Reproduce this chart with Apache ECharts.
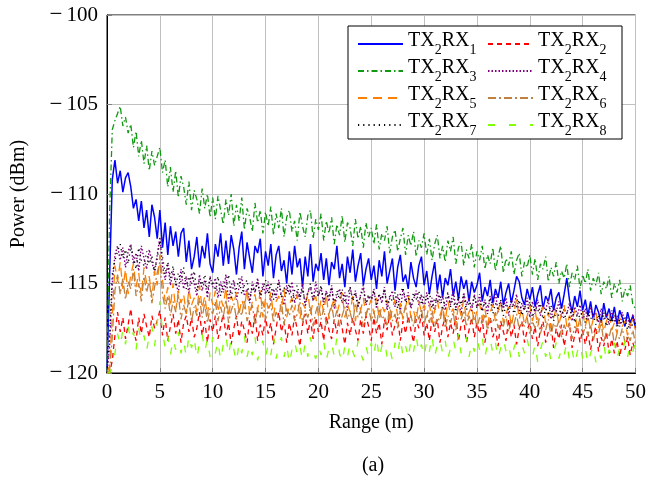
<!DOCTYPE html>
<html>
<head>
<meta charset="utf-8">
<script src="https://cdn.jsdelivr.net/npm/echarts@6/dist/echarts.min.js"></script>
<style>html,body{margin:0;padding:0;background:#fff}#c{width:649px;height:480px}</style>
</head>
<body>
<div id="c"></div>
<script>
// ---- data (range step 0.25 m, 0 .. 50 m) ----
const RANGE_STEP = 0.25;
const seriesNames = ['TX2RX1','TX2RX2','TX2RX3','TX2RX4','TX2RX5','TX2RX6','TX2RX7','TX2RX8'];
const yTicks = [-120, -115, -110, -105, -100];
const xTicks = [0, 5, 10, 15, 20, 25, 30, 35, 40, 45, 50];

const tx2rx1 = [-120,-114.5,-109.2,-108.1,-109.4,-108.7,-109.9,-109.1,-108.8,-109.6,-110.8,-110.3,-111.5,-110.4,-111.9,-110.9,-112.4,-110.6,-111.3,-112.5,-110.9,-113.0,-111.6,-113.4,-111.8,-112.9,-112.1,-113.5,-112.2,-111.9,-113.8,-112.6,-114.2,-113.5,-112.4,-114.1,-112.9,-113.6,-112.2,-113.9,-114.4,
-112.8,-113.5,-112.2,-114.0,-112.6,-113.9,-112.3,-113.1,-114.5,-113.0,-112.1,-114.2,-112.7,-113.6,-114.4,-112.9,-113.3,-112.5,-114.6,-113.2,
-114.0,-112.8,-114.7,-113.4,-112.9,-114.3,-113.7,-115.0,-113.2,-114.5,-112.9,-114.1,-113.6,-115.2,-113.5,-114.6,-112.8,-114.9,-113.9,-114.3,
-113.3,-114.8,-113.6,-115.1,-113.8,-114.2,-112.9,-114.7,-113.9,-115.2,-113.5,-114.4,-113.1,-114.9,-114.0,-113.3,-115.1,-114.2,-113.6,-114.8,
-114.0,-115.3,-113.7,-114.6,-113.2,-115.0,-114.3,-113.6,-115.4,-114.1,-113.4,-114.9,-114.5,-115.3,-113.8,-114.7,-115.2,-114.0,-113.5,-115.1,
-114.3,-115.6,-114.6,-113.8,-115.4,-114.5,-115.8,-114.7,-115.1,-114.2,-115.7,-114.9,-115.9,-114.6,-115.3,-114.8,-116.0,-114.9,-115.5,-115.1,
-114.4,-116.0,-115.2,-115.7,-114.8,-116.1,-115.3,-115.8,-114.9,-116.2,-115.5,-115.0,-116.1,-115.4,-114.6,-114.9,-115.8,-116.2,-115.3,-115.9,
-115.2,-116.3,-115.6,-115.1,-116.4,-115.7,-116.0,-115.3,-116.5,-115.8,-115.5,-116.4,-115.6,-114.7,-115.9,-116.6,-115.7,-116.3,-115.4,-116.5,
-115.9,-116.8,-116.0,-117.0,-116.2,-116.6,-117.2,-116.1,-116.9,-116.4,-117.1,-116.3,-117.3,-116.5,-116.9,-117.4,-116.6,-117.2,-116.8,-117.5];

const tx2rx2 = [-120,-120,-119.3,-117.9,-116.6,-117.7,-116.9,-118.1,-117.3,-116.4,-117.6,-118.2,-116.9,-117.8,-116.7,-117.4,-118.0,-116.8,-117.5,-117.1,-116.5,-117.9,-116.9,-118.2,-117.4,-116.7,-117.8,-117.0,-118.3,-117.2,-116.8,-117.7,-116.9,-118.0,-117.5,-116.6,-117.9,-117.1,-118.3,-117.0,-117.7,
-116.8,-118.1,-117.4,-116.7,-117.9,-117.2,-118.4,-117.5,-116.8,-118.0,-117.1,-117.6,-118.3,-117.0,-117.8,-116.7,-118.2,-117.3,-117.9,-116.9,
-117.8,-117.2,-118.4,-117.5,-116.6,-117.7,-117.1,-118.3,-117.2,-117.9,-116.8,-117.6,-118.5,-117.3,-116.7,-117.8,-117.0,-118.1,-116.9,-117.7,
-117.1,-118.2,-116.8,-117.6,-118.1,-117.0,-117.8,-116.7,-117.5,-118.4,-117.2,-117.9,-116.9,-117.6,-118.2,-117.0,-117.8,-116.8,-117.4,-118.2,
-116.9,-117.8,-117.2,-118.4,-117.0,-117.6,-116.7,-117.9,-117.3,-116.9,-118.2,-117.1,-117.8,-116.8,-117.6,-118.3,-117.0,-117.5,-116.7,-117.9,
-117.2,-118.2,-116.9,-117.7,-117.0,-118.3,-117.4,-116.9,-118.0,-117.2,-117.8,-116.8,-118.2,-117.3,-117.0,-118.3,-117.6,-116.9,-118.0,-117.2,
-117.8,-117.0,-118.3,-117.4,-116.9,-118.0,-117.5,-118.5,-117.1,-117.7,-118.2,-117.0,-118.0,-117.3,-118.4,-117.5,-117.1,-118.3,-117.6,-117.2,
-118.1,-117.4,-118.5,-117.6,-117.1,-118.3,-117.7,-117.2,-118.6,-117.5,-118.1,-117.3,-118.5,-117.7,-117.2,-118.6,-117.9,-117.4,-118.3,-117.6,
-118.4,-117.7,-118.7,-117.9,-117.4,-118.8,-118.0,-118.5,-117.7,-118.9,-118.1,-118.9,-118.2,-119.1,-118.3,-118.7,-118.0,-119.0,-118.3,-118.8];

const tx2rx3 = [-120,-111,-106.4,-105.9,-105.5,-105.1,-106.2,-105.7,-106.6,-106.1,-107.4,-106.5,-107.9,-107.0,-108.3,-107.3,-108.7,-107.6,-108.4,-107.9,-107.4,-108.8,-108.1,-109.6,-108.5,-109.9,-108.7,-110.2,-109.0,-109.6,-110.6,-109.3,-110.9,-109.8,-110.3,-111.1,-109.7,-110.8,-110.0,-111.3,-110.2,
-111.4,-110.1,-110.9,-111.7,-110.3,-111.2,-110.0,-111.8,-110.6,-111.5,-110.2,-112.0,-110.8,-111.3,-112.1,-110.5,-111.6,-110.9,-112.2,-111.0,
-111.8,-110.7,-112.3,-111.1,-111.9,-110.8,-112.4,-111.3,-110.9,-112.1,-111.5,-112.6,-111.0,-111.8,-112.4,-111.2,-110.9,-112.5,-111.4,-112.0,
-111.1,-112.6,-111.5,-112.2,-111.3,-112.8,-111.7,-112.3,-111.2,-112.7,-111.6,-111.9,-112.9,-111.4,-112.5,-111.8,-113.0,-111.6,-112.4,-111.9,
-112.8,-111.7,-113.1,-112.2,-112.6,-111.8,-113.3,-112.4,-112.0,-113.2,-112.5,-111.9,-113.4,-112.3,-112.9,-112.1,-113.5,-112.6,-113.0,-112.2,
-113.4,-112.5,-113.7,-112.8,-112.3,-113.6,-112.9,-113.8,-112.6,-113.2,-112.4,-113.9,-113.0,-112.7,-114.0,-113.1,-113.6,-112.8,-114.1,-113.2,
-113.7,-112.9,-114.2,-113.4,-113.9,-113.0,-114.3,-113.5,-112.9,-114.4,-113.6,-114.0,-113.2,-114.5,-113.7,-113.3,-114.6,-113.8,-114.1,-113.4,
-114.5,-113.6,-114.8,-113.9,-114.2,-113.5,-114.9,-114.1,-114.6,-113.8,-115.0,-114.3,-114.7,-113.9,-115.2,-114.4,-114.8,-114.0,-115.3,-114.5,
-115.0,-114.2,-115.4,-114.7,-115.1,-114.4,-115.6,-114.9,-115.3,-114.6,-115.8,-115.0,-115.5,-114.8,-116.0,-115.3,-115.7,-115.1,-116.2,-116.4];

const tx2rx4 = [-120,-118.5,-115.0,-113.4,-112.9,-113.7,-113.0,-114.1,-113.2,-112.8,-113.9,-113.3,-114.3,-112.9,-113.6,-114.2,-113.1,-113.8,-114.4,-113.4,-112.4,-114.0,-114.8,-113.9,-115.1,-114.3,-114.9,-115.5,-114.2,-115.3,-114.6,-115.6,-114.4,-115.0,-115.7,-114.5,-115.4,-114.8,-115.8,-114.6,-115.2,
-114.7,-115.8,-114.9,-115.5,-114.5,-116.0,-115.1,-114.8,-115.9,-115.2,-114.6,-115.7,-115.3,-116.1,-114.9,-115.5,-114.7,-115.9,-115.0,-115.6,
-114.9,-116.0,-115.3,-115.8,-114.8,-115.7,-116.2,-115.1,-115.6,-114.9,-116.1,-115.4,-115.9,-115.0,-116.3,-115.5,-115.2,-116.0,-114.9,-115.7,
-115.2,-116.2,-115.4,-116.0,-115.1,-116.4,-115.7,-115.3,-116.1,-115.5,-116.5,-115.2,-115.9,-115.4,-116.3,-115.6,-115.1,-116.2,-115.7,-116.0,
-115.3,-116.4,-115.6,-116.1,-115.2,-116.5,-115.8,-115.4,-116.3,-115.6,-116.6,-115.3,-116.0,-115.5,-116.4,-115.9,-115.4,-116.2,-115.6,-116.5,
-115.5,-116.3,-115.8,-116.6,-115.4,-116.1,-115.7,-116.5,-115.6,-116.2,-115.3,-116.4,-115.9,-116.7,-115.5,-116.2,-115.8,-116.6,-115.6,-116.3,
-115.6,-116.5,-115.9,-116.7,-115.7,-116.3,-115.5,-116.6,-116.0,-116.4,-115.8,-116.8,-115.9,-116.3,-115.6,-116.7,-116.1,-116.5,-115.8,-116.9,
-116.0,-116.7,-115.9,-116.8,-116.2,-116.5,-115.9,-117.0,-116.3,-116.6,-116.0,-116.9,-116.4,-116.7,-116.1,-117.1,-116.3,-116.8,-116.2,-117.0,
-116.4,-117.1,-116.3,-116.9,-116.6,-117.2,-116.4,-117.0,-116.7,-117.3,-116.5,-117.1,-116.8,-117.4,-116.6,-117.2,-116.9,-117.5,-116.7,-117.3];

const tx2rx5 = [-120,-119.6,-116.8,-114.0,-114.9,-113.8,-115.3,-114.2,-115.6,-114.5,-113.9,-115.2,-114.4,-115.7,-114.1,-115.0,-114.6,-115.8,-114.3,-115.1,-113.4,-114.8,-116.0,-115.2,-116.3,-115.0,-116.5,-115.4,-116.1,-115.6,-116.7,-115.3,-116.2,-115.8,-116.6,-115.1,-116.4,-115.7,-116.8,-115.5,-116.2,
-115.4,-116.6,-115.8,-116.3,-115.2,-116.9,-115.7,-116.1,-115.5,-116.7,-115.9,-116.4,-115.3,-116.8,-116.0,-115.6,-116.5,-115.4,-116.9,-115.8,
-116.4,-115.5,-116.8,-116.0,-115.7,-116.6,-115.3,-116.9,-116.2,-115.8,-116.5,-115.6,-117.0,-116.1,-116.4,-115.5,-116.7,-116.0,-115.7,-116.8,
-115.9,-116.6,-115.6,-117.0,-116.3,-115.8,-116.7,-116.1,-115.5,-116.9,-116.2,-116.6,-115.7,-117.1,-116.0,-116.5,-115.8,-116.8,-116.3,-115.9,
-116.7,-115.8,-117.0,-116.2,-116.6,-115.9,-117.2,-116.4,-115.9,-116.8,-116.1,-117.0,-116.3,-115.7,-116.9,-116.5,-117.1,-116.0,-116.6,-116.2,
-116.9,-116.1,-117.2,-116.5,-115.9,-116.8,-116.3,-117.1,-116.0,-116.7,-116.4,-117.3,-116.2,-116.8,-115.9,-117.0,-116.6,-116.3,-117.2,-116.5,
-116.1,-117.0,-116.4,-117.3,-116.6,-116.2,-117.1,-116.5,-116.0,-117.2,-116.7,-116.3,-117.4,-116.6,-115.9,-117.0,-116.4,-117.3,-116.8,-116.2,
-117.1,-116.5,-117.4,-116.7,-116.3,-117.2,-116.6,-117.5,-116.9,-116.4,-117.3,-116.7,-116.2,-117.4,-116.8,-117.1,-116.5,-117.6,-116.9,-116.6,
-117.4,-116.8,-117.6,-117.0,-116.6,-117.5,-116.9,-117.7,-117.1,-116.7,-117.6,-117.2,-117.8,-116.9,-117.4,-117.1,-117.9,-117.3,-117.0,-117.6];

const tx2rx6 = [-120,-119.9,-118.0,-115.4,-114.5,-115.6,-114.7,-115.9,-114.9,-115.3,-114.2,-115.7,-115.0,-116.0,-114.6,-115.5,-114.8,-116.1,-115.2,-114.4,-113.8,-115.6,-116.4,-115.7,-116.8,-116.0,-116.6,-115.6,-117.0,-116.2,-116.7,-115.9,-117.1,-116.3,-116.8,-115.8,-116.9,-116.1,-117.2,-116.4,-116.7,
-116.0,-117.1,-116.3,-116.9,-115.9,-117.2,-116.5,-116.1,-117.0,-116.4,-116.8,-115.9,-117.1,-116.6,-116.2,-117.3,-116.4,-116.9,-116.0,-117.0,
-116.5,-116.1,-117.2,-116.6,-116.9,-116.0,-117.3,-116.4,-116.8,-116.2,-117.1,-116.7,-116.0,-117.2,-116.5,-116.9,-116.3,-117.4,-116.6,-116.1,
-117.0,-116.4,-117.3,-116.7,-116.2,-117.1,-116.5,-117.4,-116.8,-116.3,-117.0,-116.6,-117.2,-116.1,-116.9,-116.5,-117.4,-116.7,-116.3,-117.1,
-116.6,-117.3,-116.4,-117.0,-116.8,-117.4,-116.3,-117.1,-116.7,-117.5,-116.5,-116.9,-116.2,-117.2,-116.8,-117.4,-116.6,-117.0,-116.4,-117.3,
-116.7,-117.2,-116.5,-117.4,-116.9,-117.1,-116.4,-117.5,-116.8,-117.2,-116.6,-117.6,-116.9,-117.0,-116.5,-117.4,-116.8,-117.3,-116.6,-117.5,
-116.9,-117.3,-116.7,-117.6,-117.0,-117.2,-116.6,-117.5,-117.1,-117.4,-116.8,-117.7,-117.0,-117.3,-116.7,-117.6,-117.2,-117.4,-116.9,-117.8,
-117.1,-117.5,-116.9,-117.8,-117.3,-117.6,-117.0,-117.9,-117.2,-117.5,-117.1,-118.0,-117.3,-117.7,-117.2,-118.1,-117.4,-117.6,-117.0,-117.9,
-117.4,-117.9,-117.3,-118.2,-117.6,-117.8,-117.2,-118.3,-117.7,-118.0,-117.4,-118.4,-117.8,-118.1,-117.5,-118.3,-117.9,-118.2,-117.6,-118.4];

const tx2rx7 = [-120,-117.8,-114.5,-113.7,-113.2,-112.8,-113.6,-113.1,-113.9,-112.9,-113.5,-114.2,-113.0,-113.7,-114.0,-113.2,-113.9,-113.5,-114.3,-113.6,-112.6,-113.5,-114.5,-113.8,-114.7,-114.0,-115.2,-114.4,-114.9,-114.1,-115.3,-114.6,-115.0,-114.3,-115.4,-114.8,-115.1,-114.5,-115.5,-114.7,-115.0,
-115.4,-114.6,-115.7,-114.9,-115.2,-114.5,-115.8,-115.0,-115.3,-114.7,-115.6,-115.1,-114.8,-115.9,-115.2,-115.5,-114.9,-115.7,-115.3,-114.8,
-115.6,-115.0,-115.9,-115.3,-114.9,-115.8,-115.2,-115.6,-115.0,-116.0,-115.4,-115.1,-115.8,-115.3,-116.1,-115.5,-115.0,-115.9,-115.4,-115.7,
-115.1,-116.0,-115.5,-115.8,-115.2,-116.2,-115.4,-115.9,-115.3,-116.1,-115.6,-115.2,-116.0,-115.5,-116.3,-115.7,-115.3,-116.1,-115.6,-115.9,
-115.4,-116.2,-115.6,-115.9,-115.3,-116.3,-115.7,-116.0,-115.5,-116.4,-115.6,-115.2,-116.1,-115.8,-116.3,-115.5,-115.9,-115.4,-116.2,-115.7,
-116.0,-115.5,-116.4,-115.8,-116.1,-115.6,-116.5,-115.9,-115.5,-116.3,-115.8,-116.6,-115.7,-116.2,-115.6,-116.5,-116.0,-116.3,-115.7,-116.4,
-115.9,-116.6,-116.0,-116.3,-115.8,-116.7,-116.1,-116.4,-115.9,-116.8,-116.2,-116.5,-116.0,-116.7,-116.3,-115.9,-116.8,-116.2,-116.6,-116.0,
-116.9,-116.3,-116.6,-116.1,-117.0,-116.4,-116.7,-116.2,-117.1,-116.5,-116.8,-116.3,-117.0,-116.6,-116.9,-116.4,-117.2,-116.7,-116.9,-116.5,
-117.2,-116.6,-117.0,-116.7,-117.3,-116.8,-117.1,-116.6,-117.4,-116.9,-117.2,-116.8,-117.5,-117.0,-117.3,-116.9,-117.6,-117.1,-117.4,-117.2];

const tx2rx8 = [-120,-120,-119.7,-118.9,-117.8,-118.5,-117.6,-118.4,-117.4,-118.2,-117.7,-118.7,-117.5,-118.3,-117.9,-118.8,-117.8,-117.4,-118.5,-117.2,-116.0,-117.7,-118.6,-117.9,-119.0,-118.1,-118.7,-117.7,-118.9,-118.2,-119.1,-117.9,-118.6,-118.0,-119.2,-118.3,-117.8,-118.8,-118.1,-119.1,-118.0,
-118.9,-118.2,-119.3,-118.4,-117.9,-119.0,-118.1,-118.7,-119.4,-118.3,-118.9,-117.9,-119.1,-118.4,-119.0,-118.0,-119.3,-118.6,-118.2,-119.1,
-118.4,-119.0,-117.9,-119.2,-118.5,-118.0,-119.1,-118.4,-119.5,-118.7,-118.2,-119.0,-118.5,-119.3,-118.3,-119.1,-118.0,-118.8,-119.2,-118.5,
-119.0,-118.2,-119.3,-118.6,-118.3,-119.1,-118.0,-118.9,-119.4,-118.5,-119.1,-118.3,-118.8,-119.2,-118.2,-118.9,-119.3,-118.5,-119.1,-118.3,
-119.0,-118.0,-119.2,-118.5,-118.2,-119.1,-118.6,-119.3,-118.3,-118.9,-118.0,-119.1,-118.5,-119.2,-118.2,-118.8,-117.9,-118.9,-118.4,-119.1,
-118.2,-118.8,-117.9,-119.1,-118.4,-118.1,-118.9,-118.2,-119.2,-118.6,-118.1,-118.8,-117.8,-118.9,-118.4,-118.0,-119.1,-118.3,-118.8,-118.1,
-118.7,-118.0,-119.1,-118.4,-118.1,-118.9,-118.3,-119.2,-118.6,-118.1,-118.8,-118.4,-119.3,-118.6,-118.2,-119.1,-118.4,-118.9,-118.1,-118.8,
-119.1,-118.4,-119.4,-118.7,-118.2,-119.1,-118.5,-119.3,-118.8,-118.3,-119.2,-118.6,-119.0,-118.3,-119.3,-118.7,-119.5,-118.8,-118.4,-119.2,
-118.6,-119.5,-118.9,-118.5,-119.4,-118.8,-119.2,-118.4,-119.3,-118.7,-119.0,-118.3,-119.2,-118.6,-118.9,-118.2,-119.1,-118.4,-118.8,-118.3];

const allValues = [tx2rx1, tx2rx2, tx2rx3, tx2rx4, tx2rx5, tx2rx6, tx2rx7, tx2rx8];

// ---- styles ----
const FONT = '"Liberation Serif", "Times New Roman", serif';
const styles = [
  {color:'#0000ff', type:'solid', width:1.5},
  {color:'#ff0000', type:[5,4], width:1.3},
  {color:'#119911', type:[6,3,1.5,3], width:1.3},
  {color:'#800080', type:[1.5,2], width:1.4},
  {color:'#ff8000', type:[9,6], width:1.3},
  {color:'#bf8040', type:[8,3,2,3], width:1.3},
  {color:'#000000', type:[1.2,4], width:1.4},
  {color:'#80ff00', type:[7,14], width:1.3}
];

const series = seriesNames.map((name, k) => ({
  name: name,
  type: 'line',
  symbol: 'none',
  showSymbol: false,
  animation: false,
  clip: true,
  z: 2 + k * 0.01,
  lineStyle: {color: styles[k].color, type: styles[k].type, width: styles[k].width},
  itemStyle: {color: styles[k].color},
  data: allValues[k].map((v, i) => [i * RANGE_STEP, v])
}));

const legendRich = {
  b: {fontFamily: FONT, fontSize: 20, color: '#000', lineHeight: 26, verticalAlign: 'top'},
  s: {fontFamily: FONT, fontSize: 14, color: '#000', lineHeight: 14, verticalAlign: 'bottom'}
};
function legendFmt(name) {
  const m = name.match(/^TX(\d)RX(\d)$/);
  return '{b|TX}{s|' + m[1] + '}{b|RX}{s|' + m[2] + '}';
}
function makeLegend(left, names) {
  return {
    orient: 'vertical', left: left, top: 31, padding: 0,
    itemWidth: 45, itemHeight: 14, itemGap: 1,
    data: names, selectedMode: false, z: 10,
    itemStyle: {opacity: 0},
    textStyle: {rich: legendRich, fontFamily: FONT, fontSize: 20, color: '#000'},
    formatter: legendFmt
  };
}

const chart = echarts.init(document.getElementById('c'), null, {renderer: 'canvas'});
chart.setOption({
  animation: false,
  backgroundColor: '#fff',
  grid: {left: 107, right: 11, top: 15, bottom: 107, show: true, borderColor: '#000', borderWidth: 1, backgroundColor: 'transparent'},
  xAxis: {
    type: 'value', min: 0, max: 50, interval: 5,
    name: 'Range (m)', nameLocation: 'middle', nameGap: 40,
    nameTextStyle: {fontFamily: FONT, fontSize: 20, color: '#000'},
    axisLine: {show: true, lineStyle: {color: '#000'}},
    axisTick: {show: true, inside: true, length: 5, lineStyle: {color: '#808080'}},
    axisLabel: {fontFamily: FONT, fontSize: 21, color: '#000', margin: 9,
      formatter: v => xTicks.includes(v) ? String(v) : ''},
    splitLine: {show: true, lineStyle: {color: '#c0c0c0', width: 1}}
  },
  yAxis: {
    type: 'value', min: -120, max: -100, interval: 5,
    name: 'Power (dBm)', nameLocation: 'middle', nameGap: 78, nameRotate: 90,
    nameTextStyle: {fontFamily: FONT, fontSize: 20, color: '#000'},
    axisLine: {show: true, lineStyle: {color: '#000'}},
    axisTick: {show: true, inside: true, length: 5, lineStyle: {color: '#808080'}},
    axisLabel: {fontFamily: FONT, fontSize: 21, color: '#000', margin: 9,
      formatter: v => yTicks.includes(v) ? '{m|\u2212}{d|' + String(Math.abs(v)) + '}' : '',
      rich: {
        m: {fontFamily: FONT, fontSize: 23, color: '#000', padding: [0, 4, 0, 0]},
        d: {fontFamily: FONT, fontSize: 21, color: '#000'}
      }},
    splitLine: {show: true, lineStyle: {color: '#c0c0c0', width: 1}}
  },
  legend: [
    makeLegend(357, [seriesNames[0], seriesNames[2], seriesNames[4], seriesNames[6]]),
    makeLegend(487, [seriesNames[1], seriesNames[3], seriesNames[5], seriesNames[7]])
  ],
  graphic: [
    {type: 'rect', z: 5, shape: {x: 348, y: 26, width: 274, height: 113},
     style: {fill: '#fff', stroke: '#000', lineWidth: 1}},
    {type: 'text', z: 5, x: 373, y: 466,
     style: {text: '(a)', fontFamily: FONT, fontSize: 20, fill: '#000', textAlign: 'center', textVerticalAlign: 'middle'}}
  ],
  series: series
});
</script>
</body>
</html>
